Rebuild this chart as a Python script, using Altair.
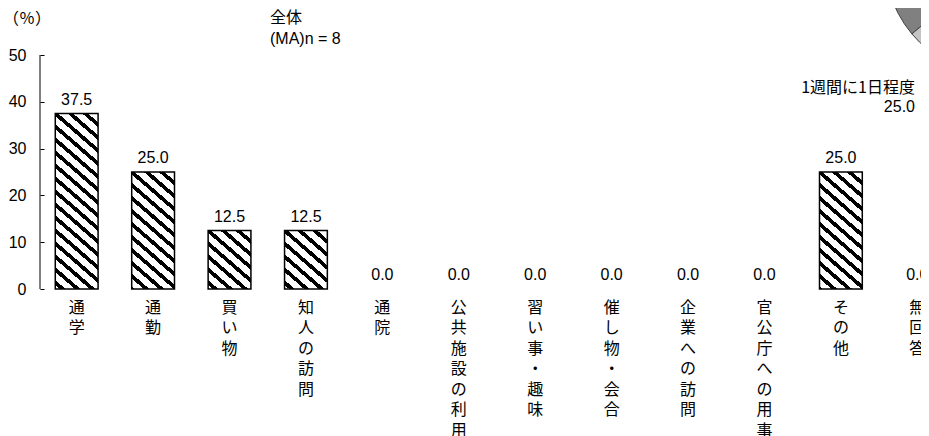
import math
import altair as alt
import pandas as pd

# ---- data ----
categories = ["通学", "通勤", "買い物", "知人の訪問", "通院", "公共施設の利用",
              "習い事・趣味", "催し物・会合", "企業への訪問", "官公庁への用事", "その他", "無回答"]
values = [37.5, 25.0, 12.5, 12.5, 0.0, 0.0, 0.0, 0.0, 0.0, 0.0, 25.0, 0.0]
y_ticks = [0, 10, 20, 30, 40, 50]
y_max = 50

title_main = "全体"
title_sub = "(MA)n = 8"
y_title = "（％）"
pie_label = "1週間に1日程度"
pie_value = "25.0"

# ---- layout / style ----
RANGE_W = 914          # band range (extends past the visible right edge, like the reference)
VIS_W, H = 881, 234
P_IN, P_OUT = 0.44, 0.2
step = RANGE_W / (len(categories) - P_IN + 2 * P_OUT)
bw = step * (1 - P_IN)
NUM_FONT = "Liberation Sans"
JP_FONT = "Noto Sans CJK JP"


def stripe_gradient(w, h, s=0.87, period=13.0, frac=0.38):
    """Diagonal '\\' hatch as a hard-stop linear gradient in bbox units."""
    L = s * w + h
    a = period * frac / 2.0
    stops = [alt.GradientStop(color="white", offset=0)]
    n0 = math.floor((-h - a) / period) - 1
    n1 = math.ceil((s * w + a) / period) + 1
    for n in range(n0, n1 + 1):
        q0, q1 = n * period - a, n * period + a
        t0, t1 = (q0 + h) / L, (q1 + h) / L
        if t1 <= 0 or t0 >= 1:
            continue
        t0, t1 = max(0.0, t0), min(1.0, t1)
        stops += [alt.GradientStop(color="white", offset=t0),
                  alt.GradientStop(color="black", offset=t0),
                  alt.GradientStop(color="black", offset=t1),
                  alt.GradientStop(color="white", offset=t1)]
    stops.append(alt.GradientStop(color="white", offset=1))
    gu, gv = s * w / L, -h / L
    n2 = gu * gu + gv * gv
    return alt.LinearGradient(gradient="linear", stops=stops,
                              x1=0, y1=1, x2=gu / n2, y2=1 + gv / n2)


df = pd.DataFrame({"cat": categories, "val": values})
base = alt.Chart(df)
one = alt.Chart(pd.DataFrame({"k": [0]}))

x_enc = alt.X("cat:N", sort=categories,
              scale=alt.Scale(domain=categories, range=[0, RANGE_W],
                              paddingInner=P_IN, paddingOuter=P_OUT),
              axis=alt.Axis(title=None, domain=False, ticks=False, labelAngle=0,
                            labelExpr="split(datum.label, '')",
                            labelFont=JP_FONT, labelFontSize=16, labelLineHeight=20.5,
                            labelBaseline="top", labelPadding=10, labelColor="black"))
y_enc = alt.Y("val:Q", scale=alt.Scale(domain=[0, y_max], nice=False),
              axis=alt.Axis(values=y_ticks, domain=False, grid=False, title=None,
                            tickSize=4, tickColor="black", tickWidth=1, offset=-4,
                            labelPadding=14, labelFont=NUM_FONT, labelFontSize=16,
                            labelColor="black"))

layers = []
for c, v in zip(categories, values):
    if v > 0:
        h = v / y_max * H
        layers.append(
            base.transform_filter(alt.datum.cat == c)
            .mark_bar(fill=stripe_gradient(bw, h), stroke="black", strokeWidth=1.5)
            .encode(x=x_enc, y=y_enc)
        )

labels = base.mark_text(font=NUM_FONT, fontSize=16, dy=-9, baseline="alphabetic",
                        color="black").encode(
    x=x_enc, y=y_enc, text=alt.Text("val:Q", format=".1f"))

axis_line = one.mark_rule(color="black", strokeWidth=1).encode(
    x=alt.value(0), y=alt.value(0), y2=alt.value(H))

t_unit = one.mark_text(text=y_title, font=JP_FONT, fontSize=16, align="left",
                       baseline="middle", color="black").encode(
    x=alt.value(-37), y=alt.value(-36))
t_main = one.mark_text(text=title_main, font=JP_FONT, fontSize=16, align="left",
                       baseline="middle", color="black").encode(
    x=alt.value(230), y=alt.value(-37))
t_sub = one.mark_text(text=title_sub, font=NUM_FONT, fontSize=16, align="left",
                      baseline="alphabetic", color="black").encode(
    x=alt.value(230), y=alt.value(-11))

# fragment of the neighbouring pie chart (cut off at the top-right corner)
pie_dark = one.mark_arc(radius=115, fill="#808080", stroke="#404040", strokeWidth=1).encode(
    x=alt.value(960), y=alt.value(-95),
    theta=alt.value(230 * math.pi / 180), theta2=alt.value(330 * math.pi / 180))
pie_light = one.mark_arc(radius=115, fill="#c4c4c4", stroke="#404040", strokeWidth=1).encode(
    x=alt.value(960), y=alt.value(-95),
    theta=alt.value(140 * math.pi / 180), theta2=alt.value(230 * math.pi / 180))
pie_t1 = one.mark_text(text=pie_label, font=JP_FONT, fontSize=16, align="right",
                       baseline="middle", color="black").encode(
    x=alt.value(875), y=alt.value(33))
pie_t2 = one.mark_text(text=pie_value, font=NUM_FONT, fontSize=16, align="right",
                       baseline="middle", color="black").encode(
    x=alt.value(875), y=alt.value(52))

chart = alt.layer(*layers, labels, axis_line, t_unit, t_main, t_sub,
                  pie_dark, pie_light, pie_t1, pie_t2).properties(
    width=VIS_W, height=H,
    autosize=alt.AutoSizeParams(type="none"),
    padding={"left": 32, "top": 47, "right": 0, "bottom": 155},
).configure_view(strokeWidth=0)

chart.save("out.html", embed_options={"renderer": "svg", "actions": False})
